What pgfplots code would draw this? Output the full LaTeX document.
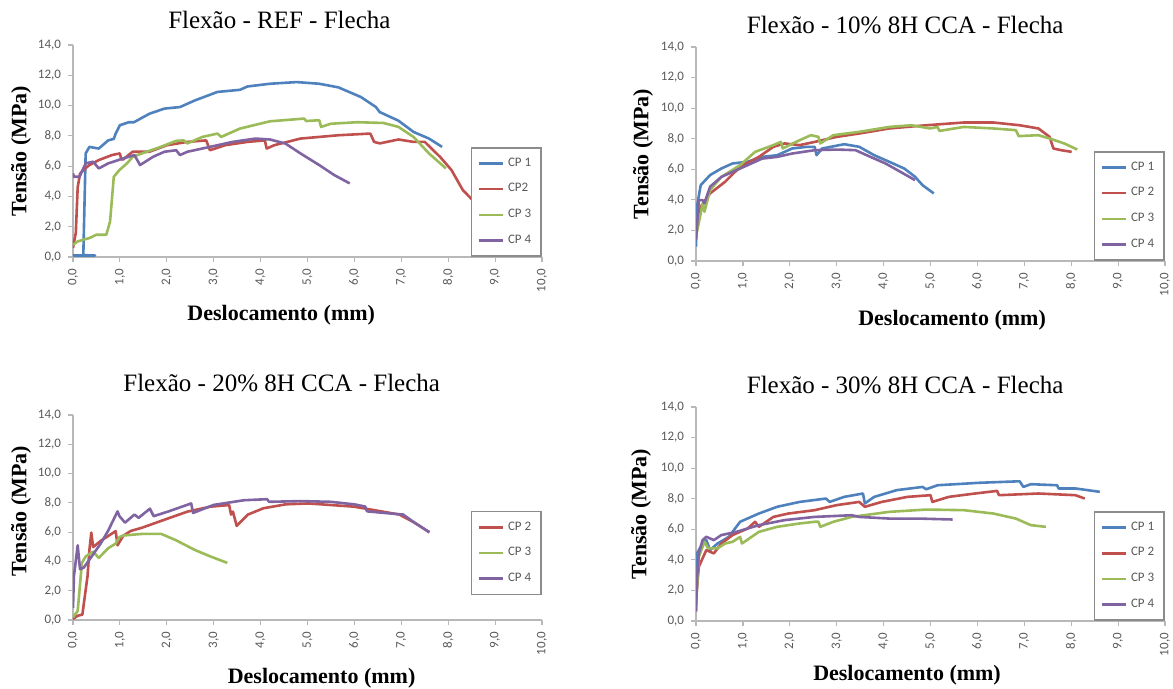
\documentclass[border=0pt]{standalone}
\usepackage{fontspec}
\setmainfont{Liberation Serif}
\newfontfamily\calib{Carlito}
\usepackage{pgfplots}
\pgfplotsset{compat=1.18}

\definecolor{cpA}{HTML}{4F81BD}
\definecolor{cpB}{HTML}{C0504D}
\definecolor{cpC}{HTML}{9BBB59}
\definecolor{cpD}{HTML}{8064A2}

\pgfplotsset{panel/.style={
    scale only axis, width=234.5pt,
    xmin=0, xmax=10, ymin=0, ymax=14,
    xtick={0,1,...,10}, ytick={0,2,...,14},
    axis lines=left, axis line style={-, draw=black!28, line width=0.8pt},
    tick style={draw=black!28, line width=0.6pt}, tick align=outside, major tick length=2.5pt,
    ticklabel style={font=\calib\fontsize{6.5}{7}\selectfont, text=black!65,
      /pgf/number format/fixed, /pgf/number format/fixed zerofill,
      /pgf/number format/precision=1, /pgf/number format/use comma,
      /pgf/number format/assume math mode=true},
    xticklabel style={rotate=90, anchor=east},
    title style={font=\fontsize{12.5}{15}\selectfont, anchor=center},
    label style={font=\bfseries\fontsize{11}{13}\selectfont},
    xlabel style={anchor=center}, ylabel style={anchor=center},
    xlabel={Deslocamento (mm)}, ylabel={Tensão (MPa)},
    legend style={font=\calib\fontsize{6.5}{7}\selectfont, text=black!65,
      draw=black!45, line width=0.8pt, at={(1,0)}, anchor=south east,
      row sep=3.1pt, inner xsep=3pt, inner ysep=3pt},
    legend cell align=left,
    legend image code/.code={\draw[#1, line width=1.3pt] (0pt,0pt) -- (12pt,0pt);},
    every axis plot/.append style={line width=1.3pt, line join=round},
  }}

\begin{document}
\begin{tikzpicture}
\useasboundingbox (0,0) rectangle (586.5pt,344.5pt);

% REF
\begin{axis}[panel, at={(36.5pt,216pt)}, height=106pt,
    title={Flexão - REF - Flecha}, title style={at={(axis description cs:0.44,1.061)}},
    xlabel style={at={(axis description cs:0.444,-0.274)}},
    ylabel style={at={(axis description cs:-0.111,0.5)}}]
\addplot[cpA] coordinates {(0,0.1)(0.47,0.1)(0.22,0.12)(0.27,6.84)(0.35,7.27)(0.55,7.16)(0.75,7.7)(0.87,7.8)(0.91,8.15)(1.0,8.7)(1.19,8.9)(1.3,8.9)(1.63,9.46)(1.95,9.8)(2.28,9.9)(2.6,10.34)(3.08,10.9)(3.56,11.04)(3.72,11.26)(4.2,11.44)(4.77,11.55)(5.25,11.44)(5.66,11.2)(6.14,10.56)(6.46,9.9)(6.54,9.57)(6.94,9.0)(7.26,8.26)(7.59,7.82)(7.87,7.27)};
\addplot[cpB] coordinates {(0,0.6)(0.06,1.6)(0.1,4.6)(0.15,5.5)(0.22,5.74)(0.35,6.07)(0.55,6.4)(0.83,6.73)(1.0,6.84)(1.03,6.45)(1.07,6.44)(1.27,6.95)(1.63,6.95)(2.0,7.38)(2.44,7.6)(2.84,7.7)(2.92,7.05)(3.24,7.38)(3.72,7.6)(4.09,7.7)(4.13,7.16)(4.29,7.38)(4.85,7.82)(5.66,8.04)(6.34,8.15)(6.42,7.6)(6.54,7.5)(6.94,7.76)(7.26,7.6)(7.5,7.6)(7.83,6.6)(8.07,5.74)(8.31,4.43)(8.55,3.66)};
\addlegendentry{CP 1}
\addlegendentry{CP2}
\addplot[cpC] coordinates {(0,0.8)(0.1,1.03)(0.35,1.25)(0.5,1.47)(0.71,1.47)(0.79,2.34)(0.87,5.3)(0.99,5.74)(1.15,6.18)(1.27,6.6)(1.47,6.84)(1.87,7.27)(2.2,7.67)(2.36,7.7)(2.44,7.5)(2.76,7.93)(3.08,8.15)(3.16,7.93)(3.56,8.48)(4.2,8.96)(4.93,9.14)(4.97,8.98)(5.25,9.03)(5.29,8.59)(5.5,8.8)(6.06,8.9)(6.62,8.85)(6.94,8.59)(7.26,7.93)(7.59,6.84)(7.95,5.85)};
\addlegendentry{CP 3}
\addplot[cpD] coordinates {(0,5.52)(0.02,5.3)(0.14,5.3)(0.27,6.18)(0.43,6.29)(0.55,5.85)(0.75,6.18)(1.07,6.51)(1.31,6.73)(1.43,6.07)(1.71,6.62)(1.95,6.95)(2.2,7.05)(2.28,6.73)(2.44,6.95)(2.92,7.27)(3.4,7.6)(3.89,7.82)(4.2,7.76)(4.53,7.49)(4.85,6.84)(5.25,6.07)(5.57,5.41)(5.9,4.86)};
\addlegendentry{CP 4}
\end{axis}

% 10%
\begin{axis}[panel, at={(348pt,214pt)}, height=107pt,
    title={Flexão - 10\% 8H CCA - Flecha}, title style={at={(axis description cs:0.446,1.047)}},
    xlabel style={at={(axis description cs:0.546,-0.276)}},
    ylabel style={at={(axis description cs:-0.113,0.5)}}]
\addplot[cpA] coordinates {(0,0.94)(0.02,3.55)(0.1,4.96)(0.3,5.62)(0.54,6.05)(0.78,6.38)(1.1,6.49)(1.41,6.81)(1.73,6.92)(2.05,7.36)(2.37,7.47)(2.53,7.47)(2.57,6.92)(2.69,7.36)(3.16,7.64)(3.48,7.47)(3.8,6.92)(4.12,6.49)(4.44,6.05)(4.67,5.51)(4.83,4.96)(5.07,4.42)};
\addlegendentry{CP 1}
\addplot[cpB] coordinates {(0,1.8)(0.1,3.55)(0.3,4.42)(0.62,5.18)(0.94,6.16)(1.34,6.81)(1.65,7.47)(1.89,7.69)(2.21,7.58)(2.53,7.79)(3.0,8.12)(3.48,8.34)(4.12,8.67)(4.91,8.88)(5.71,9.06)(6.34,9.06)(6.9,8.88)(7.3,8.67)(7.54,8.12)(7.62,7.36)(7.78,7.25)(8.01,7.14)};
\addlegendentry{CP 2}
\addplot[cpC] coordinates {(0.02,1.9)(0.1,3.1)(0.14,3.77)(0.18,3.22)(0.3,4.64)(0.54,5.5)(0.94,6.27)(1.26,7.14)(1.65,7.58)(1.81,7.79)(1.85,7.36)(2.13,7.79)(2.45,8.23)(2.61,8.12)(2.65,7.69)(2.93,8.23)(3.48,8.45)(4.12,8.77)(4.59,8.88)(4.99,8.67)(5.15,8.77)(5.19,8.51)(5.71,8.77)(6.34,8.67)(6.82,8.56)(6.88,8.17)(7.3,8.23)(7.54,8.01)(7.85,7.69)(8.13,7.29)};
\addlegendentry{CP 3}
\addplot[cpD] coordinates {(0,1.37)(0.06,3.98)(0.14,3.98)(0.18,3.77)(0.3,4.86)(0.54,5.5)(0.78,5.83)(1.1,6.27)(1.41,6.7)(1.73,6.81)(2.05,7.03)(2.53,7.25)(3.0,7.29)(3.4,7.25)(3.72,6.81)(4.04,6.38)(4.36,5.83)(4.67,5.29)};
\addlegendentry{CP 4}
\end{axis}

% 20%
\begin{axis}[panel, at={(36.5pt,34.5pt)}, height=102.5pt,
    title={Flexão - 20\% 8H CCA - Flecha}, title style={at={(axis description cs:0.445,1.097)}},
    xlabel style={at={(axis description cs:0.53,-0.283)}},
    ylabel style={at={(axis description cs:-0.111,0.53)}},
    legend style={at={(1,0.121)}}]
\addplot[cpB] coordinates {(0,0.07)(0.1,0.29)(0.2,0.37)(0.31,3.0)(0.35,4.78)(0.39,5.97)(0.43,4.98)(0.59,5.4)(0.91,6.07)(0.95,5.1)(1.07,5.75)(1.23,6.08)(1.47,6.3)(1.96,6.86)(2.44,7.4)(2.93,7.74)(3.33,7.85)(3.37,7.2)(3.41,7.4)(3.49,6.43)(3.73,7.2)(4.06,7.63)(4.54,7.9)(5.02,7.96)(5.5,7.85)(5.99,7.74)(6.39,7.52)(6.96,7.2)(7.28,6.65)(7.6,5.99)};
\addlegendentry{CP 2}
\addplot[cpC] coordinates {(0,0.18)(0.1,0.62)(0.19,3.9)(0.27,4.34)(0.43,4.67)(0.55,4.24)(0.75,4.9)(0.91,5.22)(0.99,5.66)(1.07,5.77)(1.48,5.88)(1.88,5.88)(2.2,5.44)(2.6,4.78)(2.93,4.34)(3.29,3.9)};
\addlegendentry{CP 3}
\addplot[cpD] coordinates {(0,0.83)(0.02,3.0)(0.1,5.1)(0.15,3.47)(0.23,3.58)(0.35,4.12)(0.59,5.22)(0.75,6.1)(0.95,7.42)(0.99,7.09)(1.11,6.65)(1.31,7.2)(1.4,6.98)(1.64,7.6)(1.72,7.09)(2.04,7.42)(2.52,7.96)(2.56,7.31)(3.0,7.86)(3.65,8.18)(4.14,8.25)(4.18,8.07)(4.86,8.12)(5.5,8.07)(5.99,7.9)(6.23,7.75)(6.27,7.42)(6.64,7.31)(7.04,7.2)(7.28,6.65)(7.6,5.99)};
\addlegendentry{CP 4}
\end{axis}

% 30%
\begin{axis}[panel, at={(348pt,34pt)}, height=107pt,
    title={Flexão - 30\% 8H CCA - Flecha}, title style={at={(axis description cs:0.446,1.047)}},
    xlabel style={at={(axis description cs:0.45,-0.252)}},
    ylabel style={at={(axis description cs:-0.117,0.5)}}]
\addplot[cpA] coordinates {(0,0.72)(0.02,4.42)(0.14,5.07)(0.22,5.29)(0.3,4.64)(0.46,5.07)(0.7,5.5)(0.94,6.49)(1.34,7.03)(1.73,7.47)(2.21,7.79)(2.77,8.01)(2.85,7.79)(3.16,8.12)(3.56,8.34)(3.6,7.69)(3.8,8.12)(4.28,8.56)(4.83,8.77)(4.91,8.62)(5.15,8.88)(6.03,9.04)(6.9,9.14)(6.98,8.77)(7.14,8.95)(7.7,8.88)(7.73,8.67)(8.09,8.67)(8.61,8.45)};
\addlegendentry{CP 1}
\addplot[cpB] coordinates {(0,1.37)(0.06,3.55)(0.22,4.64)(0.38,4.42)(0.54,5.07)(0.78,5.62)(1.1,6.05)(1.26,6.49)(1.34,6.16)(1.65,6.81)(1.97,7.03)(2.53,7.25)(3.0,7.58)(3.48,7.79)(3.6,7.47)(3.96,7.79)(4.51,8.12)(5.0,8.23)(5.04,7.79)(5.39,8.12)(5.95,8.34)(6.42,8.51)(6.46,8.23)(7.3,8.34)(8.09,8.23)(8.29,8.01)};
\addlegendentry{CP 2}
\addplot[cpC] coordinates {(0,1.15)(0.06,4.2)(0.18,5.18)(0.26,4.75)(0.46,4.75)(0.62,5.07)(0.78,5.18)(0.94,5.5)(0.98,5.07)(1.34,5.83)(1.73,6.16)(2.21,6.38)(2.53,6.49)(2.61,6.49)(2.65,6.16)(2.93,6.49)(3.32,6.81)(4.12,7.14)(4.91,7.29)(5.71,7.25)(6.34,7.03)(6.82,6.7)(7.14,6.27)(7.46,6.16)};
\addlegendentry{CP 3}
\addplot[cpD] coordinates {(0,0.61)(0.02,2.68)(0.06,4.42)(0.14,5.29)(0.22,5.51)(0.3,5.4)(0.38,5.29)(0.54,5.62)(0.86,5.83)(1.34,6.27)(1.89,6.6)(2.53,6.81)(3.32,6.92)(3.48,6.81)(4.12,6.7)(4.75,6.7)(5.47,6.64)};
\addlegendentry{CP 4}
\end{axis}
\end{tikzpicture}
\end{document}
